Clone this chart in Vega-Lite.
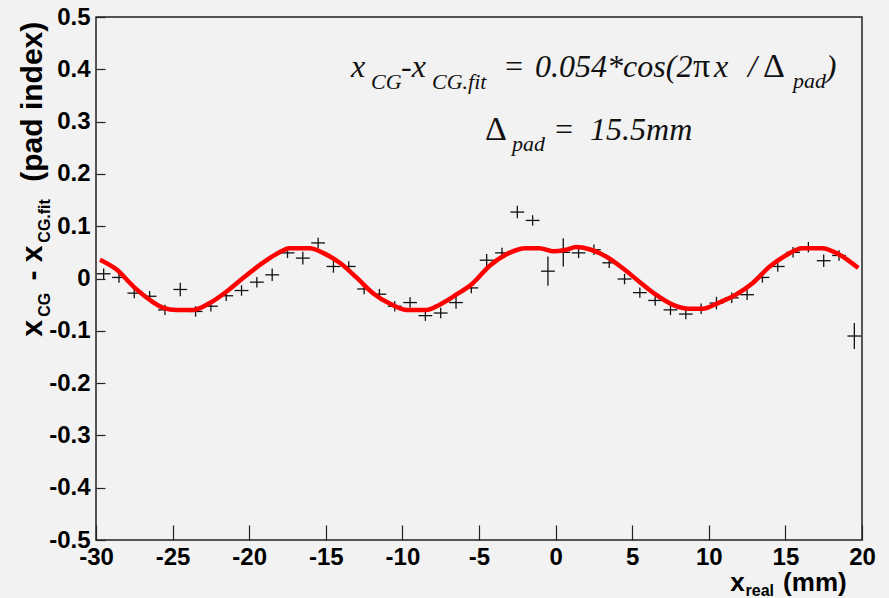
{
  "$schema": "https://vega.github.io/schema/vega-lite/v6.json",
  "width": 766,
  "height": 523,
  "autosize": {"type": "none"},
  "padding": {"left": 96, "top": 17, "right": 27, "bottom": 58},
  "background": "#f2f2f2",
  "config": {
    "view": {"fill": "#f2f2f2", "stroke": "#222222", "strokeWidth": 1.5},
    "axis": {
      "domain": false, "grid": false,
      "labelFont": "Liberation Sans", "labelFontWeight": "bold", "labelFontSize": 24,
      "labelColor": "#000000", "tickColor": "#222222", "tickWidth": 1.2,
      "labelFlush": false, "labelOverlap": false
    }
  },
  "datasets": {
    "points": [
      {"x": -29.5, "y": 0.009, "ey": 0.01, "ex": 0.45},
      {"x": -28.5, "y": 0.002, "ey": 0.01, "ex": 0.45},
      {"x": -27.5, "y": -0.028, "ey": 0.01, "ex": 0.45},
      {"x": -26.5, "y": -0.034, "ey": 0.01, "ex": 0.45},
      {"x": -25.5, "y": -0.060, "ey": 0.01, "ex": 0.45},
      {"x": -24.5, "y": -0.021, "ey": 0.013, "ex": 0.45},
      {"x": -23.5, "y": -0.063, "ey": 0.01, "ex": 0.45},
      {"x": -22.5, "y": -0.053, "ey": 0.01, "ex": 0.45},
      {"x": -21.5, "y": -0.033, "ey": 0.01, "ex": 0.45},
      {"x": -20.5, "y": -0.023, "ey": 0.01, "ex": 0.45},
      {"x": -19.5, "y": -0.007, "ey": 0.01, "ex": 0.45},
      {"x": -18.5, "y": 0.007, "ey": 0.012, "ex": 0.45},
      {"x": -17.5, "y": 0.049, "ey": 0.01, "ex": 0.45},
      {"x": -16.5, "y": 0.039, "ey": 0.012, "ex": 0.45},
      {"x": -15.5, "y": 0.068, "ey": 0.01, "ex": 0.45},
      {"x": -14.5, "y": 0.023, "ey": 0.012, "ex": 0.45},
      {"x": -13.5, "y": 0.023, "ey": 0.01, "ex": 0.45},
      {"x": -12.5, "y": -0.020, "ey": 0.01, "ex": 0.45},
      {"x": -11.5, "y": -0.030, "ey": 0.01, "ex": 0.45},
      {"x": -10.5, "y": -0.053, "ey": 0.01, "ex": 0.45},
      {"x": -9.5, "y": -0.046, "ey": 0.01, "ex": 0.45},
      {"x": -8.5, "y": -0.071, "ey": 0.01, "ex": 0.45},
      {"x": -7.5, "y": -0.066, "ey": 0.01, "ex": 0.45},
      {"x": -6.5, "y": -0.046, "ey": 0.012, "ex": 0.45},
      {"x": -5.5, "y": -0.018, "ey": 0.01, "ex": 0.45},
      {"x": -4.5, "y": 0.035, "ey": 0.012, "ex": 0.45},
      {"x": -3.5, "y": 0.049, "ey": 0.01, "ex": 0.45},
      {"x": -2.5, "y": 0.127, "ey": 0.012, "ex": 0.45},
      {"x": -1.5, "y": 0.111, "ey": 0.01, "ex": 0.45},
      {"x": -0.5, "y": 0.014, "ey": 0.028, "ex": 0.45},
      {"x": 0.5, "y": 0.050, "ey": 0.027, "ex": 0.45},
      {"x": 1.5, "y": 0.049, "ey": 0.01, "ex": 0.45},
      {"x": 2.5, "y": 0.055, "ey": 0.01, "ex": 0.45},
      {"x": 3.5, "y": 0.030, "ey": 0.01, "ex": 0.45},
      {"x": 4.5, "y": -0.001, "ey": 0.01, "ex": 0.45},
      {"x": 5.5, "y": -0.027, "ey": 0.01, "ex": 0.45},
      {"x": 6.5, "y": -0.042, "ey": 0.01, "ex": 0.45},
      {"x": 7.5, "y": -0.060, "ey": 0.01, "ex": 0.45},
      {"x": 8.5, "y": -0.068, "ey": 0.01, "ex": 0.45},
      {"x": 9.5, "y": -0.058, "ey": 0.01, "ex": 0.45},
      {"x": 10.5, "y": -0.047, "ey": 0.012, "ex": 0.45},
      {"x": 11.5, "y": -0.037, "ey": 0.01, "ex": 0.45},
      {"x": 12.5, "y": -0.031, "ey": 0.01, "ex": 0.45},
      {"x": 13.5, "y": 0.002, "ey": 0.01, "ex": 0.45},
      {"x": 14.5, "y": 0.023, "ey": 0.01, "ex": 0.45},
      {"x": 15.5, "y": 0.050, "ey": 0.01, "ex": 0.45},
      {"x": 16.5, "y": 0.060, "ey": 0.01, "ex": 0.45},
      {"x": 17.5, "y": 0.034, "ey": 0.012, "ex": 0.45},
      {"x": 18.5, "y": 0.044, "ey": 0.01, "ex": 0.45},
      {"x": 19.5, "y": -0.110, "ey": 0.025, "ex": 0.45}
    ],
    "fit": [
      {"x": -29.74, "y": 0.036}, {"x": -28.65, "y": 0.017}, {"x": -27.57, "y": -0.015},
      {"x": -26.48, "y": -0.041}, {"x": -25.6, "y": -0.056}, {"x": -24.74, "y": -0.060},
      {"x": -23.66, "y": -0.060}, {"x": -22.57, "y": -0.047}, {"x": -21.48, "y": -0.025},
      {"x": -20.4, "y": 0.001}, {"x": -19.3, "y": 0.026}, {"x": -18.22, "y": 0.047},
      {"x": -17.35, "y": 0.058}, {"x": -16.05, "y": 0.058}, {"x": -15.18, "y": 0.049},
      {"x": -14.09, "y": 0.030}, {"x": -13.0, "y": 0.002}, {"x": -11.92, "y": -0.028},
      {"x": -10.83, "y": -0.048}, {"x": -9.75, "y": -0.060}, {"x": -8.44, "y": -0.060},
      {"x": -7.57, "y": -0.050}, {"x": -6.49, "y": -0.031}, {"x": -5.4, "y": -0.009},
      {"x": -4.32, "y": 0.024}, {"x": -3.23, "y": 0.046}, {"x": -1.93, "y": 0.058},
      {"x": -1.06, "y": 0.058}, {"x": -0.19, "y": 0.052}, {"x": 0.68, "y": 0.055},
      {"x": 1.34, "y": 0.060}, {"x": 2.2, "y": 0.056}, {"x": 3.29, "y": 0.042},
      {"x": 4.37, "y": 0.020}, {"x": 5.46, "y": -0.006}, {"x": 6.55, "y": -0.031},
      {"x": 7.63, "y": -0.050}, {"x": 8.72, "y": -0.058}, {"x": 9.59, "y": -0.058},
      {"x": 10.67, "y": -0.046}, {"x": 11.76, "y": -0.031}, {"x": 12.85, "y": -0.009},
      {"x": 13.94, "y": 0.022}, {"x": 15.02, "y": 0.044}, {"x": 16.1, "y": 0.058},
      {"x": 17.4, "y": 0.058}, {"x": 18.5, "y": 0.046}, {"x": 19.76, "y": 0.020}
    ],
    "labels": [
      {"role": "main", "x": -13.36, "y": 0.385, "t": "x"},
      {"role": "sub", "x": -12.05, "y": 0.363, "t": "CG"},
      {"role": "main", "x": -10.09, "y": 0.385, "t": "-x"},
      {"role": "sub", "x": -8.07, "y": 0.363, "t": "CG.fit"},
      {"role": "main", "x": -3.43, "y": 0.385, "t": "="},
      {"role": "main", "x": -1.34, "y": 0.385, "t": "0.054*cos(2"},
      {"role": "greek", "x": 8.97, "y": 0.385, "t": "π"},
      {"role": "main", "x": 10.34, "y": 0.385, "t": "x"},
      {"role": "main", "x": 12.56, "y": 0.385, "t": "/"},
      {"role": "greek", "x": 13.54, "y": 0.385, "t": "Δ"},
      {"role": "sub", "x": 15.5, "y": 0.365, "t": "pad"},
      {"role": "main", "x": 17.64, "y": 0.385, "t": ")"},
      {"role": "greek", "x": -4.61, "y": 0.265, "t": "Δ"},
      {"role": "sub", "x": -2.85, "y": 0.244, "t": "pad"},
      {"role": "main", "x": -0.17, "y": 0.265, "t": "="},
      {"role": "main", "x": 2.25, "y": 0.265, "t": "15.5mm"},
      {"role": "ytitle", "x": -33.52, "y": -0.1114, "t": "x"},
      {"role": "ytitlesub", "x": -33.0, "y": -0.0731, "t": "CG"},
      {"role": "ytitle", "x": -33.52, "y": -0.004, "t": "- x"},
      {"role": "ytitlesub", "x": -33.0, "y": 0.0685, "t": "CG.fit"},
      {"role": "ytitle", "x": -33.52, "y": 0.185, "t": "(pad index)"},
      {"role": "xtitle", "x": 11.4, "y": -0.5975, "t": "x"},
      {"role": "xtitlesub", "x": 12.4, "y": -0.6071, "t": "real"},
      {"role": "xtitle", "x": 14.85, "y": -0.5975, "t": "(mm)"}
    ]
  },
  "encoding": {
    "x": {"field": "x", "type": "quantitative",
          "scale": {"domain": [-30, 20], "nice": false, "zero": false},
          "axis": {"orient": "bottom", "title": null,
                   "values": [-30, -25, -20, -15, -10, -5, 0, 5, 10, 15, 20],
                   "tickSize": -15, "labelPadding": 20,
                   "labelExpr": "replace(format(datum.value, 'd'), '\u2212', '-')"}},
    "y": {"field": "y", "type": "quantitative",
          "scale": {"domain": [-0.5, 0.5], "nice": false, "zero": false},
          "axis": {"orient": "left", "title": null,
                   "values": [-0.5, -0.4, -0.3, -0.2, -0.1, 0, 0.1, 0.2, 0.3, 0.4, 0.5],
                   "tickSize": -9, "labelPadding": 15,
                   "labelExpr": "replace(format(datum.value, '.1~f'), '\u2212', '-')"}}
  },
  "layer": [
    {
      "data": {"name": "points"},
      "transform": [
        {"calculate": "datum.x + datum.ex", "as": "xhi"},
        {"calculate": "datum.x - datum.ex", "as": "x"}
      ],
      "mark": {"type": "rule", "color": "#111111", "strokeWidth": 1.3},
      "encoding": {"x2": {"field": "xhi"}}
    },
    {
      "data": {"name": "points"},
      "transform": [
        {"calculate": "datum.y + datum.ey", "as": "yhi"},
        {"calculate": "datum.y - datum.ey", "as": "y"}
      ],
      "mark": {"type": "rule", "color": "#111111", "strokeWidth": 1.3},
      "encoding": {"y2": {"field": "yhi"}}
    },
    {
      "data": {"name": "fit"},
      "mark": {"type": "line", "color": "#ff0000", "strokeWidth": 4.5, "interpolate": "monotone"},
      "encoding": {}
    },
    {
      "data": {"name": "labels"},
      "transform": [{"filter": "datum.role == 'main'"}],
      "mark": {"type": "text", "font": "Liberation Serif", "fontStyle": "italic", "fontSize": 32, "align": "left", "baseline": "alphabetic", "color": "#111111"},
      "encoding": {"text": {"field": "t"}}
    },
    {
      "data": {"name": "labels"},
      "transform": [{"filter": "datum.role == 'greek'"}],
      "mark": {"type": "text", "font": "Liberation Serif", "fontSize": 34, "align": "left", "baseline": "alphabetic", "color": "#111111"},
      "encoding": {"text": {"field": "t"}}
    },
    {
      "data": {"name": "labels"},
      "transform": [{"filter": "datum.role == 'sub'"}],
      "mark": {"type": "text", "font": "Liberation Serif", "fontStyle": "italic", "fontSize": 22, "align": "left", "baseline": "alphabetic", "color": "#111111"},
      "encoding": {"text": {"field": "t"}}
    },
    {
      "data": {"name": "labels"},
      "transform": [{"filter": "datum.role == 'ytitle'"}],
      "mark": {"type": "text", "font": "Liberation Sans", "fontWeight": "bold", "fontSize": 30, "angle": 270, "align": "left", "baseline": "alphabetic", "color": "#000000"},
      "encoding": {"text": {"field": "t"}}
    },
    {
      "data": {"name": "labels"},
      "transform": [{"filter": "datum.role == 'ytitlesub'"}],
      "mark": {"type": "text", "font": "Liberation Sans", "fontWeight": "bold", "fontSize": 16, "angle": 270, "align": "left", "baseline": "alphabetic", "color": "#000000"},
      "encoding": {"text": {"field": "t"}}
    },
    {
      "data": {"name": "labels"},
      "transform": [{"filter": "datum.role == 'xtitle'"}],
      "mark": {"type": "text", "font": "Liberation Sans", "fontWeight": "bold", "fontSize": 26, "align": "left", "baseline": "alphabetic", "color": "#000000"},
      "encoding": {"text": {"field": "t"}}
    },
    {
      "data": {"name": "labels"},
      "transform": [{"filter": "datum.role == 'xtitlesub'"}],
      "mark": {"type": "text", "font": "Liberation Sans", "fontWeight": "bold", "fontSize": 16, "align": "left", "baseline": "alphabetic", "color": "#000000"},
      "encoding": {"text": {"field": "t"}}
    }
  ]
}
